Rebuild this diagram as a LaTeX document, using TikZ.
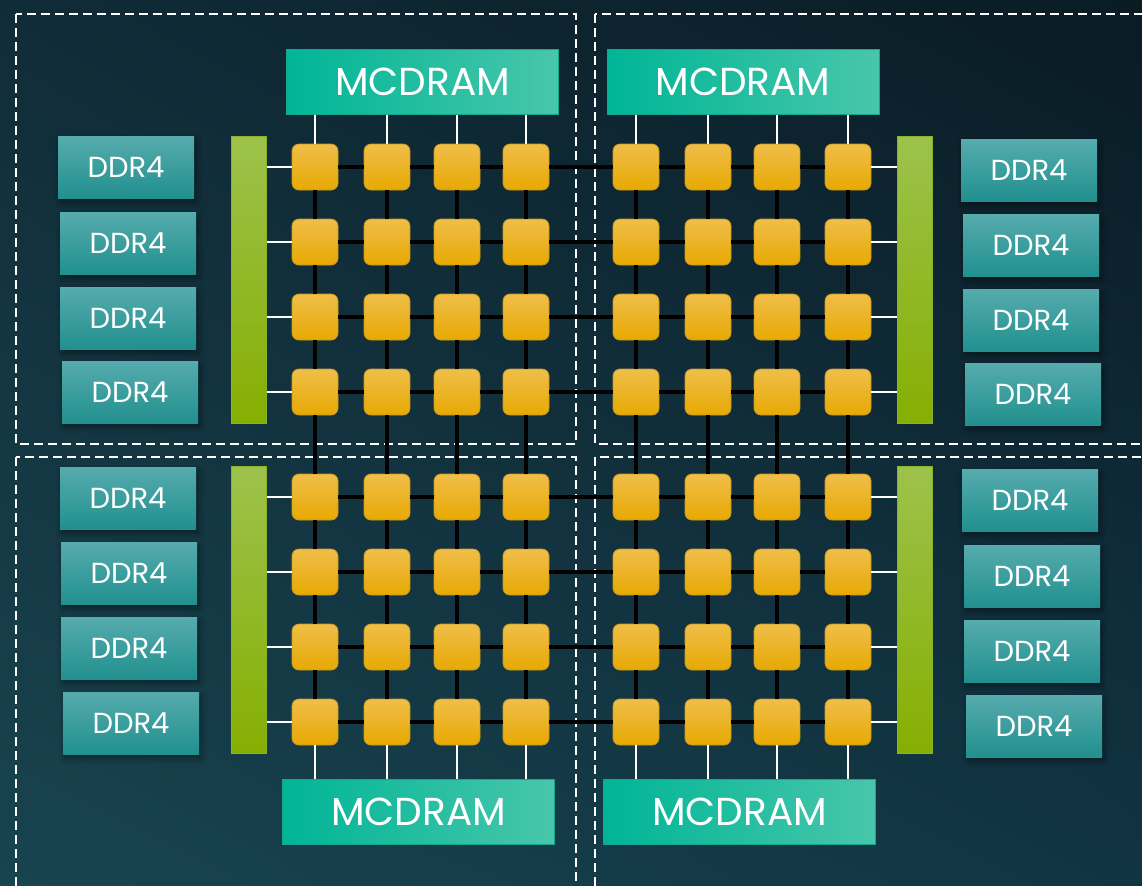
\documentclass[tikz,border=0pt]{standalone}
\usepackage{fontspec}
\setmainfont{Poppins}
\usetikzlibrary{shadows,shadows.blur,shadings}

\definecolor{bgul}{HTML}{102C38}
\definecolor{bgur}{HTML}{0A1B24}
\definecolor{bgll}{HTML}{18444F}
\definecolor{bglr}{HTML}{113443}
\definecolor{tiletop}{HTML}{F0BE4A}
\definecolor{tilemid}{HTML}{F5BD14}
\definecolor{tilebot}{HTML}{E7A902}
\definecolor{tileedge}{HTML}{C99A1E}
\definecolor{mcleft}{HTML}{00B596}
\definecolor{mcright}{HTML}{48C6AB}
\definecolor{mcedge}{HTML}{14A78D}
\definecolor{ddrtop}{HTML}{56ABAD}
\definecolor{ddrbot}{HTML}{21908F}
\definecolor{bartop}{HTML}{9DC24C}
\definecolor{barbot}{HTML}{85AF02}
\definecolor{baredge}{HTML}{8AB22C}

\begin{document}
\begin{tikzpicture}[x=0.5pt, y=-0.5pt,
  tile/.style={draw=tileedge, line width=0.4pt, rounded corners=3.5pt, inner sep=0pt,
    minimum width=23pt, minimum height=23pt,
    top color=tiletop, middle color=tilemid, bottom color=tilebot},
  mcdram/.style={draw=mcedge, line width=0.5pt, inner sep=0pt,
    minimum width=136pt, minimum height=32.5pt,
    left color=mcleft, right color=mcright,
    text=white, font=\fontsize{19.5}{19.5}\selectfont},
  ddr/.style={inner sep=0pt, minimum width=68pt, minimum height=31pt,
    top color=ddrtop, bottom color=ddrbot,
    blur shadow={shadow opacity=45, shadow xshift=1pt, shadow yshift=-2pt, shadow blur radius=3pt},
    text=white, font=\fontsize{14.5}{14.5}\selectfont},
  bar/.style={draw=baredge, line width=0.5pt, inner sep=0pt,
    minimum width=17.5pt, minimum height=143.5pt,
    top color=bartop, bottom color=barbot},
  noc/.style={draw=black, line width=1.8pt},
  feed/.style={draw=white, line width=1.1pt},
  quad/.style={draw=white, line width=1.3pt, dash pattern=on 4.5pt off 2.5pt}
]
\clip (0,0) rectangle (1142,885);
\shade[upper left=bgul, upper right=bgur, lower left=bgll, lower right=bglr]
  (0,0) rectangle (1142,885);

% four quadrants
\draw[quad] (16,14) rectangle (576,444);
\draw[quad] (595,14) rectangle (1160,444);
\draw[quad] (16,457) rectangle (576,900);
\draw[quad] (595,457) rectangle (1160,900);

% memory controllers
\node[bar] (lt) at (248.5,279.5) {};
\node[bar] (lb) at (248.5,610) {};
\node[bar] (rt) at (914.5,279.5) {};
\node[bar] (rb) at (914.5,610) {};

% MCDRAM stacks
\node[mcdram] (mtl) at (422.5,81.5) {MCDRAM};
\node[mcdram] (mtr) at (743,81.5) {MCDRAM};
\node[mcdram] (mbl) at (418.5,811.5) {MCDRAM};
\node[mcdram] (mbr) at (739.5,811.5) {MCDRAM};

% DDR4 channels
\foreach \x/\y [count=\i] in {126/167,128/243,128/318,130/392,128/498,129/573,129/648,131/723}
  \node[ddr] (dl\i) at (\x,\y) {DDR4};
\foreach \x/\y [count=\i] in {1029/170,1031/245,1031/320,1033/394,1030/500,1032/576,1032/651,1034/726}
  \node[ddr] (dr\i) at (\x,\y) {DDR4};

% tile mesh
\foreach \y [count=\r] in {167,242,317,392,497,572,647,722}
  \foreach \x [count=\c] in {315,387,457,526,636,708,777,848}
    \node[tile] (t\r\c) at (\x,\y) {};

\foreach \a/\b in {1/2,2/3,3/4,4/5,5/6,6/7,7/8}
  \foreach \k in {1,...,8} {
    \path[noc] (t\k\a) -- (t\k\b);
    \path[noc] (t\a\k) -- (t\b\k);
  }

% links to the controllers
\foreach \r in {1,...,4} {
  \draw[feed] (lt.east |- t\r1.west) -- (t\r1.west);
  \draw[feed] (t\r8.east) -- (rt.west |- t\r8.east);
}
\foreach \r in {5,...,8} {
  \draw[feed] (lb.east |- t\r1.west) -- (t\r1.west);
  \draw[feed] (t\r8.east) -- (rb.west |- t\r8.east);
}

% links to MCDRAM
\foreach \c in {1,...,4} {
  \draw[feed] (mtl.south -| t1\c.north) -- (t1\c.north);
  \draw[feed] (t8\c.south) -- (mbl.north -| t8\c.south);
}
\foreach \c in {5,...,8} {
  \draw[feed] (mtr.south -| t1\c.north) -- (t1\c.north);
  \draw[feed] (t8\c.south) -- (mbr.north -| t8\c.south);
}
\end{tikzpicture}
\end{document}
